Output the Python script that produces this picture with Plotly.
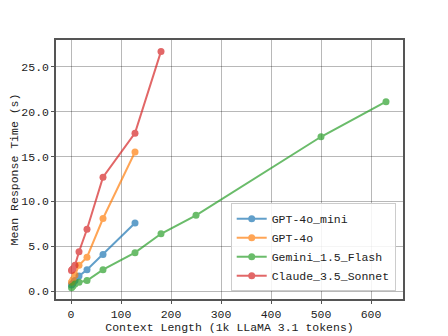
import plotly.graph_objects as go

# ===============================================================
# Data
# ===============================================================

mini_x = [1, 2, 4, 8, 16, 32, 64, 128]
mini_y = [0.7, 0.8, 0.9, 1.2, 1.7, 2.4, 4.1, 7.6]

gpt4o_x = [1, 2, 4, 8, 16, 32, 64, 128]
gpt4o_y = [1.0, 1.1, 1.3, 1.8, 2.9, 3.8, 8.1, 15.5]

gemini_x = [1, 2, 4, 8, 16, 32, 64, 128, 180, 250, 500, 630]
gemini_y = [0.4, 0.5, 0.6, 0.8, 1.0, 1.2, 2.4, 4.3, 6.4, 8.45, 17.2, 21.1]

claude_x = [1, 2, 4, 8, 16, 32, 64, 128, 180]
claude_y = [2.3, 2.4, 2.5, 2.9, 4.4, 6.9, 12.7, 17.6, 26.7]

series = [
    ("GPT-4o_mini", mini_x, mini_y, "#1f77b4"),
    ("GPT-4o", gpt4o_x, gpt4o_y, "#ff7f0e"),
    ("Gemini_1.5_Flash", gemini_x, gemini_y, "#2ca02c"),
    ("Claude_3.5_Sonnet", claude_x, claude_y, "#d62728"),
]

FONT = "Liberation Mono"
FS = 11.5

fig = go.Figure()
for name, xs, ys, color in series:
    fig.add_trace(go.Scatter(
        x=xs, y=ys, name=name, mode="lines+markers",
        line=dict(color=color, width=2),
        marker=dict(color=color, size=7),
        opacity=0.7,
    ))

axis_style = dict(
    showgrid=True, gridcolor="rgba(0,0,0,0.28)", gridwidth=1,
    showline=True, linecolor="#555555", linewidth=1.5, mirror=True,
    ticks="outside", ticklen=3, tickcolor="#555555",
    zeroline=False, automargin=False,
    tickfont=dict(family=FONT, size=FS, color="#222222"),
    title_font=dict(family=FONT, size=FS, color="#222222"),
)

fig.update_xaxes(
    range=[-30, 664], tickvals=[0, 100, 200, 300, 400, 500, 600],
    title_text="Context Length (1k LLaMA 3.1 tokens)", title_standoff=2,
    **axis_style,
)
fig.update_yaxes(
    range=[-0.86, 27.97], tickvals=[0, 5, 10, 15, 20, 25], tickformat=".1f",
    title_text="Mean Response Time (s)", title_standoff=4,
    **axis_style,
)

# page body has an 8px default margin, so the figure is 8px smaller
fig.update_layout(
    width=440, height=328,
    margin=dict(l=48, r=45, t=32, b=37),
    plot_bgcolor="white", paper_bgcolor="white",
    font=dict(family=FONT, size=FS, color="#222222"),
    legend=dict(
        x=0.979, y=0.03, xanchor="right", yanchor="bottom",
        bgcolor="rgba(255,255,255,0.85)", bordercolor="#cccccc", borderwidth=1,
        font=dict(family=FONT, size=FS, color="#222222"),
        itemwidth=30, tracegroupgap=0,
    ),
)

fig.write_html("out.html")
